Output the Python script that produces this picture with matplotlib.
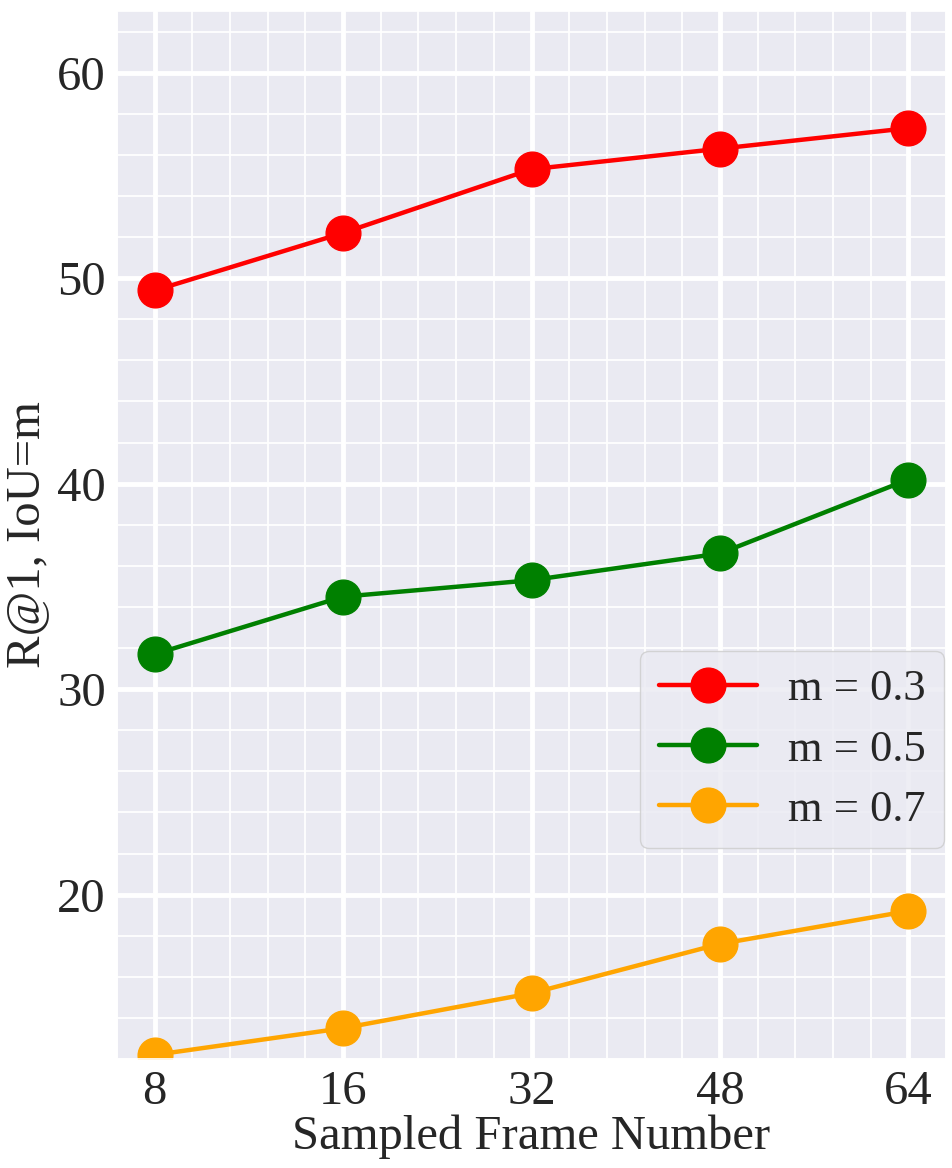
import matplotlib
matplotlib.use("Agg")
import matplotlib.pyplot as plt
import seaborn as sns
from matplotlib.ticker import AutoMinorLocator, MultipleLocator

# values
frame_labels = ["8", "16", "32", "48", "64"]
recall_m03 = [49.4, 52.2, 55.3, 56.3, 57.3]
recall_m05 = [31.7, 34.5, 35.3, 36.6, 40.2]
recall_m07 = [12.2, 13.5, 15.2, 17.6, 19.2]
series_names = ["m = 0.3", "m = 0.5", "m = 0.7"]
series_colors = ["red", "green", "orange"]

sns.set_theme(style="darkgrid")
plt.rcParams["font.family"] = ["Liberation Serif", "DejaVu Serif"]

fig = plt.figure(figsize=(9.52, 11.68), dpi=100)
ax = fig.add_axes([117 / 952, 1 - 1059 / 1168, 829 / 952, 1048 / 1168])

x = list(range(len(frame_labels)))
for vals, name, col in zip([recall_m03, recall_m05, recall_m07], series_names, series_colors):
    ax.plot(x, vals, marker="o", color=col, label=name, linewidth=3.2, markersize=25)

ax.set_xticks(x)
ax.set_xticklabels(frame_labels)
ax.set_xlim(-0.2, 4.2)
ax.set_ylim(12, 63)
ax.yaxis.set_major_locator(MultipleLocator(10))
ax.xaxis.set_minor_locator(AutoMinorLocator(5))
ax.yaxis.set_minor_locator(AutoMinorLocator(5))
ax.grid(which="major", color="white", linewidth=3.5)
ax.grid(which="minor", color="white", linewidth=1.3)
ax.tick_params(which="both", length=0)
ax.tick_params(axis="both", labelsize=35, pad=8)

ax.set_xlabel("Sampled Frame Number", fontsize=35, labelpad=0)
ax.set_ylabel("R@1, IoU=m", fontsize=35, labelpad=6)

ax.legend(loc="lower right", bbox_to_anchor=(0.998, 0.201), borderaxespad=0,
          fontsize=32, handlelength=2.2, handletextpad=0.7, labelspacing=0.45,
          borderpad=0.42, frameon=True)

fig.savefig("out.png", dpi=100)
